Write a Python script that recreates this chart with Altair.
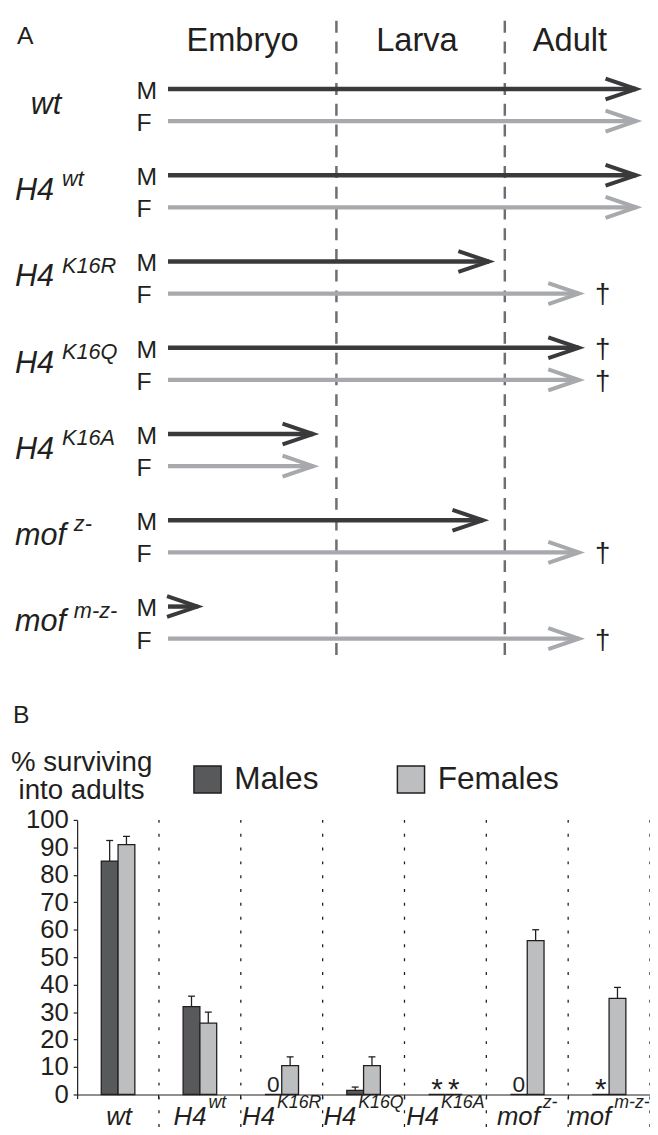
import altair as alt
import pandas as pd

# ---------------- Panel A data ----------------
genotypes = ["wt", "H4wt", "H4K16R", "H4K16Q", "H4K16A", "mofz", "mofmz"]
label_main = ["wt", "H4", "H4", "H4", "H4", "mof", "mof"]
label_sup = ["", "wt", "K16R", "K16Q", "K16A", "z-", "m-z-"]
stage_names = ["Embryo", "Larva", "Adult"]
stage_header_pos = [0.443, 1.478, 2.387]
stage_boundaries = [1, 2]
# developmental stage reached (0 = fertilisation, 1 = end of embryo, 2 = end of larva)
male_reach = [2.78, 2.78, 1.906, 2.44, 0.862, 1.871, 0.176]
female_reach = [2.78, 2.78, 2.44, 2.44, 0.862, 2.44, 2.44]
male_dies_as_adult = [False, False, False, True, False, False, False]
female_dies_as_adult = [False, False, True, True, False, True, True]

# ---------------- Panel B data ----------------
categories = genotypes
sexes = ["Males", "Females"]
male_pct = [85, 32, 0, 1.5, 0, 0, 0]
male_err = [7.5, 3.8, 0, 1.2, 0, 0, 0]
female_pct = [91, 26, 10.5, 10.5, 0, 56, 35]
female_err = [3, 4, 3.2, 3.2, 0, 4, 4]
male_note = ["", "", "0", "", "*", "0", "*"]
female_note = ["", "", "", "", "*", "", ""]
y_ticks = list(range(0, 101, 10))

# ---------------- styling ----------------
FONT = "Liberation Sans"
INK = "#231f20"
ARROW_M = "#3a3a3c"
ARROW_F = "#a7a9ac"
BAR_M = "#58595b"
BAR_F = "#bcbec0"
DASH = "#6d6e71"
PLOT_W = 580
PLOT_H = 1093
F_ROW_OFFSET = 0.372
CHEVRON = "M-1,-0.34L0,0L-1,0.34"
BAR_W = 17

CW = {'H': 722, '4': 556, 'w': 722, 't': 278, 'm': 833, 'o': 556, 'f': 278,
      'K': 667, '1': 556, '6': 556, 'R': 722, 'Q': 778, 'A': 667, 'z': 500, '-': 333}


def adv(s, size):
    return sum(CW.get(ch, 556) for ch in s) / 1000.0 * size


# ---------------- Panel A ----------------
xA = alt.Scale(domain=[0, 2], range=[92, 433], nice=False, zero=False)
yA = alt.Scale(domain=[0, 6], range=[75, 599], nice=False, zero=False)
sexA = alt.Scale(domain=["M", "F"], range=[ARROW_M, ARROW_F])

rows = []
for i, g in enumerate(genotypes):
    rows.append({"genotype": g, "sex": "M", "row": i, "start": 0.0,
                 "end": male_reach[i], "dies": male_dies_as_adult[i]})
    rows.append({"genotype": g, "sex": "F", "row": i + F_ROW_OFFSET, "start": 0.0,
                 "end": female_reach[i], "dies": female_dies_as_adult[i]})
arrows_df = pd.DataFrame(rows)
baseA = alt.Chart(arrows_df)

ya = alt.Y("row:Q", scale=yA, axis=None)
ca = alt.Color("sex:N", scale=sexA, legend=None)

dashed = alt.Chart(pd.DataFrame({"b": stage_boundaries})).mark_rule(
    strokeDash=[12, 9], strokeWidth=2.5, color=DASH
).encode(x=alt.X("b:Q", scale=xA, axis=None), y=alt.value(6), y2=alt.value(649))

lines = baseA.mark_rule(strokeWidth=4.5, strokeCap="butt").encode(
    x=alt.X("start:Q", scale=xA, axis=None), x2="end:Q", y=ya, color=ca)

heads = baseA.mark_point(shape=CHEVRON, size=3844, filled=False, strokeWidth=4,
                         opacity=1, strokeJoin="miter").encode(
    x=alt.X("end:Q", scale=xA, axis=None), y=ya, color=ca)

mf = baseA.mark_text(align="left", baseline="alphabetic", dy=10, fontSize=25,
                     color=INK).encode(x=alt.value(60), y=ya, text="sex:N")

dagger = baseA.transform_filter("datum.dies").mark_text(
    text="\u2020", fontSize=28, dx=24, dy=10, baseline="alphabetic", align="center",
    color=INK).encode(x=alt.X("end:Q", scale=xA, axis=None), y=ya)

headers = alt.Chart(pd.DataFrame({"stage": stage_names, "pos": stage_header_pos})).mark_text(
    fontSize=33, baseline="alphabetic", align="center", color=INK
).encode(x=alt.X("pos:Q", scale=xA, axis=None), y=alt.value(37), text="stage:N")

letterA = alt.Chart(pd.DataFrame({"t": ["A"]})).mark_text(
    fontSize=25, align="left", baseline="alphabetic", color=INK
).encode(x=alt.value(-61), y=alt.value(29), text="t:N")

a_layers = [dashed, lines, heads, mf, dagger, headers, letterA]
for i, g in enumerate(genotypes):
    d = pd.DataFrame({"mid": [i + F_ROW_OFFSET / 2], "main": [label_main[i]],
                      "sup": [label_sup[i]]})
    indent = 16 if label_sup[i] == "" else 0
    a_layers.append(alt.Chart(d).mark_text(
        fontSize=31, fontStyle="italic", align="left", baseline="alphabetic",
        dx=indent, dy=9, color=INK).encode(
        x=alt.value(-63), y=alt.Y("mid:Q", scale=yA, axis=None), text="main:N"))
    if label_sup[i]:
        a_layers.append(alt.Chart(d).mark_text(
            fontSize=22, fontStyle="italic", align="left", baseline="alphabetic",
            dx=adv(label_main[i], 31) + 8, dy=-5, color=INK).encode(
            x=alt.value(-63), y=alt.Y("mid:Q", scale=yA, axis=None), text="sup:N"))

# ---------------- Panel B ----------------
recs = []
for i, c in enumerate(categories):
    recs.append({"category": c, "sex": "Males", "value": male_pct[i], "err": male_err[i],
                 "top": male_pct[i] + male_err[i], "note": male_note[i]})
    recs.append({"category": c, "sex": "Females", "value": female_pct[i], "err": female_err[i],
                 "top": female_pct[i] + female_err[i], "note": female_note[i]})
dfB = pd.DataFrame(recs)

step = PLOT_W / len(categories)
grp_start = (step - 2 * BAR_W) / 2
xB = alt.Scale(domain=categories, paddingInner=0, paddingOuter=0)
xoB = alt.Scale(domain=sexes, paddingInner=0, paddingOuter=0,
                range=[grp_start, grp_start + 2 * BAR_W])
yB = alt.Scale(domain=[0, 100], range=[PLOT_H, PLOT_H - 278], nice=False, zero=False)
colB = alt.Scale(domain=sexes, range=[BAR_M, BAR_F])

xb_plain = alt.X("category:N", scale=xB, sort=categories, axis=None)
xo = alt.XOffset("sex:N", scale=xoB, sort=sexes)

bars = alt.Chart(dfB).mark_bar(stroke=INK, strokeWidth=1.3).encode(
    x=alt.X("category:N", scale=xB, sort=categories,
            axis=alt.Axis(orient="bottom", labels=False, title=None, grid=False,
                          tickSize=4, tickColor=INK, tickWidth=1.2, domainColor=INK,
                          domainWidth=1.2, bandPosition=0)),
    xOffset=xo,
    y=alt.Y("value:Q", scale=yB,
            axis=alt.Axis(orient="left", values=y_ticks, title=["% surviving", "into adults"],
                          grid=False, tickSize=4, tickWidth=1.2, tickColor=INK,
                          domainColor=INK, domainWidth=1.2, labelFontSize=26,
                          labelColor=INK, labelPadding=5, labelFlush=False,
                          labelOverlap=False, titleAngle=0, titleAlign="center",
                          titleBaseline="alphabetic", titleX=4, titleY=765,
                          titleFontSize=28, titleFontWeight="normal", titleColor=INK,
                          titleLineHeight=28)),
    color=alt.Color("sex:N", scale=colB, sort=sexes,
                    legend=alt.Legend(orient="none", legendX=116, legendY=758,
                                      direction="horizontal", title=None,
                                      symbolType="square", symbolSize=756,
                                      symbolStrokeColor=INK, symbolStrokeWidth=1.5,
                                      symbolOpacity=1, labelFontSize=32, labelColor=INK,
                                      labelOffset=11, columnPadding=76, padding=0,
                                      labelLimit=300)))

errs = alt.Chart(dfB).transform_filter("datum.err > 0").mark_rule(
    color=INK, strokeWidth=1.3).encode(
    x=xb_plain, xOffset=xo, y=alt.Y("value:Q", scale=yB, axis=None), y2="top:Q")

caps = alt.Chart(dfB).transform_filter("datum.err > 0").mark_tick(
    color=INK, thickness=1.3, size=7, orient="horizontal", opacity=1).encode(
    x=xb_plain, xOffset=xo, y=alt.Y("top:Q", scale=yB, axis=None))

zeros = alt.Chart(dfB).transform_filter("datum.note == '0'").mark_text(
    fontSize=23, baseline="alphabetic", dy=-3, color=INK).encode(
    x=xb_plain, xOffset=xo, y=alt.Y("value:Q", scale=yB, axis=None), text="note:N")

stars = alt.Chart(dfB).transform_filter("datum.note == '*'").mark_text(
    fontSize=30, baseline="alphabetic", dy=5, color=INK).encode(
    x=xb_plain, xOffset=xo, y=alt.Y("value:Q", scale=yB, axis=None), text="note:N")

sep_df = pd.DataFrame({"category": categories, "ymax": [100] * len(categories)})
sep_inner = alt.Chart(sep_df).transform_filter(
    alt.FieldOneOfPredicate(field="category", oneOf=categories[1:])).mark_rule(
    strokeDash=[3, 11], strokeWidth=1.3, color=INK).encode(
    x=alt.X("category:N", scale=xB, sort=categories, axis=None, bandPosition=0),
    y=alt.Y("ymax:Q", scale=yB, axis=None), y2=alt.value(PLOT_H + 40))
sep_end = alt.Chart(sep_df).transform_filter(
    alt.FieldEqualPredicate(field="category", equal=categories[-1])).mark_rule(
    strokeDash=[3, 11], strokeWidth=1.3, color=INK).encode(
    x=alt.X("category:N", scale=xB, sort=categories, axis=None, bandPosition=1),
    y=alt.Y("ymax:Q", scale=yB, axis=None), y2=alt.value(PLOT_H + 40))

letterB = alt.Chart(pd.DataFrame({"t": ["B"]})).mark_text(
    fontSize=25, align="left", baseline="alphabetic", color=INK
).encode(x=alt.value(-65), y=alt.value(717), text="t:N")

b_layers = [bars, sep_inner, sep_end, errs, caps, zeros, stars, letterB]
for i, c in enumerate(categories):
    d = pd.DataFrame({"category": [c], "main": [label_main[i]], "sup": [label_sup[i]]})
    if not label_sup[i]:
        b_layers.append(alt.Chart(d).mark_text(
            fontSize=26, fontStyle="italic", align="center", baseline="alphabetic",
            dx=1, color=INK).encode(x=xb_plain, y=alt.value(PLOT_H + 31), text="main:N"))
        continue
    wm = adv(label_main[i], 26)
    ws = adv(label_sup[i], 18)
    gap = 3 if label_main[i] == "mof" else 2
    off = -(wm + gap + ws) / 2 + wm
    b_layers.append(alt.Chart(d).mark_text(
        fontSize=26, fontStyle="italic", align="right", baseline="alphabetic",
        dx=off, color=INK).encode(x=xb_plain, y=alt.value(PLOT_H + 31), text="main:N"))
    b_layers.append(alt.Chart(d).mark_text(
        fontSize=18, fontStyle="italic", align="left", baseline="alphabetic",
        dx=off + gap, color=INK).encode(x=xb_plain, y=alt.value(PLOT_H + 14), text="sup:N"))

# Every layer's scales carry explicit domains and ranges, so independent
# scales map identically within a panel.
chart = alt.layer(*b_layers, *a_layers).resolve_scale(
    x="independent", y="independent", color="independent"
).properties(
    width=PLOT_W, height=PLOT_H,
    autosize=alt.AutoSizeParams(type="none"),
    padding={"left": 70, "top": 0, "right": 0, "bottom": 34},
).configure(font=FONT).configure_view(stroke=None)

chart.save("out.html", embed_options={"renderer": "svg", "actions": False})
